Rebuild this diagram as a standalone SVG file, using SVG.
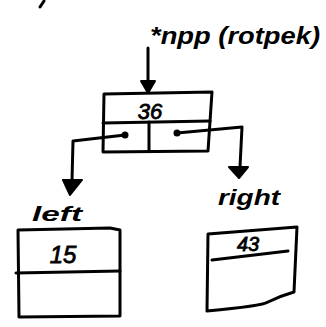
<svg xmlns="http://www.w3.org/2000/svg" width="326" height="327" viewBox="0 0 326 327">
<style>
.ln{fill:none;stroke:#000;stroke-width:3;stroke-linecap:round;stroke-linejoin:round}
.ah{fill:#000;stroke:#000;stroke-width:2;stroke-linejoin:round}
.t{font-family:"Liberation Sans",Arial,sans-serif;font-style:italic;font-weight:bold;fill:#000}
.n{font-family:"Liberation Sans",Arial,sans-serif;font-style:italic;fill:#000;stroke:#000;stroke-width:0.8;text-anchor:middle}
</style>
<rect width="326" height="327" fill="#fff"/>
<path class="ln" d="M44 1 L40 7"/>
<g id="pointer-label">
<text class="t" x="150" y="44" font-size="24" textLength="170" lengthAdjust="spacingAndGlyphs">*npp (rotpek)</text>
</g>
<g id="root">
<path class="ln" d="M104 94 L212 92 L208 151 L103 152 Z"/>
<path class="ln" d="M103 123 L210 121"/>
<path class="ln" d="M149 122 L149 151"/>
<text class="n" x="150" y="119" font-size="22">36</text>
<circle cx="125" cy="135" r="3.5" fill="#000"/>
<circle cx="177" cy="133" r="3.5" fill="#000"/>
</g>
<g id="left">
<path class="ln" d="M18 230 L110 228 L120 230 L120 316 L19 317 Z"/>
<path class="ln" d="M16 273 L120 271"/>
<text class="n" x="63" y="263" font-size="24">15</text>
<text class="t" x="57" y="221" font-size="20" text-anchor="middle" textLength="50" lengthAdjust="spacingAndGlyphs">left</text>
</g>
<g id="right">
<path class="ln" d="M208 234 L297 227 L294 292 Q280 296 268 302 Q262 306 207 311 Z"/>
<path class="ln" d="M212 260 L288 251"/>
<text class="n" x="248" y="251" font-size="20">43</text>
<text class="t" x="249" y="205" font-size="22" text-anchor="middle" textLength="62" lengthAdjust="spacingAndGlyphs">right</text>
</g>
<g id="connectors">
<path class="ln" d="M148 48 L148 82"/>
<path class="ah" d="M141 81 L155 81 L148 93 Z"/>
<path class="ln" d="M125 135 L73 141 L72 181"/>
<path class="ah" d="M63 180 L82 180 L70 195 Z"/>
<path class="ln" d="M177 133 L242 127 L240 167"/>
<path class="ah" d="M229 167 L248 167 L239 178 Z"/>
</g>
</svg>
